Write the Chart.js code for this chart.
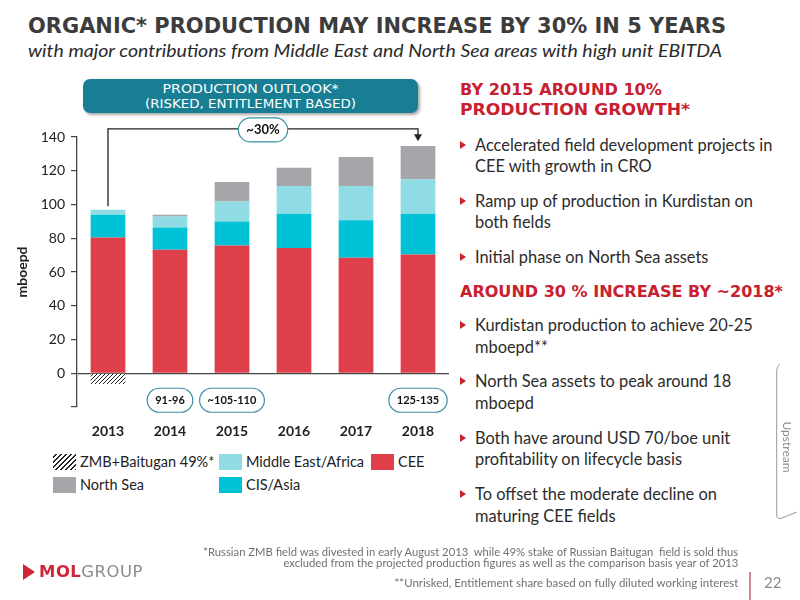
<!DOCTYPE html>
<html>
<head>
<meta charset="utf-8">
<script src="https://cdn.jsdelivr.net/npm/chart.js@4.4.1/dist/chart.umd.min.js"></script>
<style>
  body { margin: 0; width: 800px; height: 600px; background: #fff; position: relative; overflow: hidden; font-family: Lato, "Open Sans", sans-serif; }
  .abs { position: absolute; white-space: nowrap; }
  .fit { display: inline-block; transform-origin: left center; }
  .title { left: 28px; top: 14px; font: bold 22px/24px "DejaVu Sans", sans-serif; color: #3c3c3c; }
  .subtitle { left: 28px; top: 39px; font: italic 18px/22px Lato, sans-serif; color: #2a2a2a; }
  .banner { left: 83px; top: 79px; width: 335px; height: 34px; border-radius: 7px; background: #177e93; box-shadow: 2px 2px 3px rgba(0,0,0,0.35); color: #fff; text-align: center; font: 12px/15px "DejaVu Sans", sans-serif; padding-top: 3px; box-sizing: border-box; }
  .banner .fit { transform-origin: center center; }
  .head { left: 460px; font: bold 16px/20px "DejaVu Sans", sans-serif; color: #c8202e; }
  .line { left: 475px; font: 16.4px/20px Lato, sans-serif; color: #2b2b2b; }
  .tri { left: 460px; width: 0; height: 0; border-left: 6px solid #c8202e; border-top: 4px solid transparent; border-bottom: 4px solid transparent; }
  .legend { left: 53px; top: 453px; display: grid; grid-template-columns: 166px 152px auto; row-gap: 6px; font: 14.5px/17px Lato, sans-serif; color: #222; }
  .legend div { display: flex; align-items: center; }
  .legend span.box { width: 23px; height: 16px; margin-right: 4px; display: inline-block; }
  .foot { right: 62px; font: 11px/13px Lato, sans-serif; color: #707070; }
  .foot .fit { transform-origin: right center; }
</style>
</head>
<body>

<div class="abs title"><span class="fit" data-w="698">ORGANIC* PRODUCTION MAY INCREASE BY 30% IN 5 YEARS</span></div>
<div class="abs subtitle"><span class="fit" data-w="694">with major contributions from Middle East and North Sea areas with high unit EBITDA</span></div>

<div class="abs banner">
  <div><span class="fit" data-w="176">PRODUCTION OUTLOOK*</span></div>
  <div><span class="fit" data-w="211">(RISKED, ENTITLEMENT BASED)</span></div>
</div>

<canvas id="chart" width="460" height="330" style="position:absolute;left:0;top:115px;"></canvas>

<div class="abs legend" id="legend"></div>

<!-- right column -->
<div class="abs head" style="top:80px"><span class="fit" data-w="202">BY 2015 AROUND 10%</span></div>
<div class="abs head" style="top:100px"><span class="fit" data-w="230">PRODUCTION GROWTH*</span></div>

<div class="abs tri" style="top:141px"></div>
<div class="abs line" style="top:135px">Accelerated field development projects in</div>
<div class="abs line" style="top:156px">CEE with growth in CRO</div>
<div class="abs tri" style="top:197px"></div>
<div class="abs line" style="top:191px">Ramp up of production in Kurdistan on</div>
<div class="abs line" style="top:212px">both fields</div>
<div class="abs tri" style="top:253px"></div>
<div class="abs line" style="top:247px">Initial phase on North Sea assets</div>

<div class="abs head" style="top:282px"><span class="fit" data-w="323">AROUND 30 % INCREASE BY ~2018*</span></div>

<div class="abs tri" style="top:321px"></div>
<div class="abs line" style="top:315px">Kurdistan production to achieve 20-25</div>
<div class="abs line" style="top:337px">mboepd**</div>
<div class="abs tri" style="top:377px"></div>
<div class="abs line" style="top:371px">North Sea assets to peak around 18</div>
<div class="abs line" style="top:393px">mboepd</div>
<div class="abs tri" style="top:434px"></div>
<div class="abs line" style="top:428px">Both have around USD 70/boe unit</div>
<div class="abs line" style="top:449px">profitability on lifecycle basis</div>
<div class="abs tri" style="top:490px"></div>
<div class="abs line" style="top:484px">To offset the moderate decline on</div>
<div class="abs line" style="top:506px">maturing CEE fields</div>

<svg class="abs" style="left:0;top:0" width="800" height="600">
  <path d="M780 364 Q776.7 366 776.7 371 L776.7 515 Q777 520 782 518 L797 512" fill="none" stroke="#9a9a9a" stroke-width="1"/>
  <line x1="750" y1="572" x2="750" y2="600" stroke="#c0606a" stroke-width="1.5"/>
  <polygon points="23,564 35,572 23,580" fill="#d0263a"/>
</svg>
<div class="abs" style="left:787px;top:447px;transform:translate(-50%,-50%) rotate(90deg);font:12px Lato,sans-serif;color:#8c8c8c;">Upstream</div>

<div class="abs" style="left:39px;top:563px;font:16px/18px 'DejaVu Sans',sans-serif;letter-spacing:0.5px;"><span class="fit" data-w="104"><span style="color:#d0263a;font-weight:bold">MOL</span><span style="color:#8a8a8a">GROUP</span></span></div>

<div class="abs foot" style="top:545px"><span class="fit" data-w="535">*Russian ZMB field was divested in early August 2013&nbsp; while 49% stake of Russian Baitugan&nbsp; field is sold thus</span></div>
<div class="abs foot" style="top:556px"><span class="fit" data-w="455">excluded from the projected production figures as well as the comparison basis year of 2013</span></div>
<div class="abs foot" style="top:576px"><span class="fit" data-w="344">**Unrisked, Entitlement share based on fully diluted working interest</span></div>
<div class="abs" style="left:764px;top:574px;font:15px/16px Lato,sans-serif;color:#8a8a8a;">22</div>

<script>
// chart data (mboepd)
const years = ['2013', '2014', '2015', '2016', '2017', '2018'];
const cee = [80.5, 73.2, 75.7, 74.2, 68.4, 70.4];
const cisAsia = [13.4, 13.2, 14.3, 20.3, 22.2, 24.1];
const middleEastAfrica = [3.0, 6.5, 11.8, 16.4, 20.3, 20.4];
const northSea = [null, 1.0, 11.5, 10.9, 17.2, 19.8];
const zmbBaitugan = [-6.3, null, null, null, null, null];
const yTicks = [-20, 140, 20];           // min, max, step
const rangeLabels = ['', '91-96', '~105-110', '', '', '125-135'];
const growthLabel = '~30%';
const bracket = { from: 99, level: 144.8, to: 137.5 }; // y values of the 2013 -> 2018 bracket

const colors = { cee: '#df3f4a', cis: '#00c2d6', me: '#8fdce4', ns: '#a5a6aa' };

function hatchPattern() {
  const c = document.createElement('canvas');
  c.width = 4; c.height = 4;
  const g = c.getContext('2d');
  g.fillStyle = '#fff';
  g.fillRect(0, 0, 4, 4);
  g.strokeStyle = '#222';
  g.lineWidth = 1;
  g.beginPath();
  g.moveTo(0, 4); g.lineTo(4, 0);
  g.moveTo(-1, 1); g.lineTo(1, -1);
  g.moveTo(3, 5); g.lineTo(5, 3);
  g.stroke();
  return g.createPattern(c, 'repeat');
}

function pill(ctx, cx, cy, text, size) {
  ctx.font = 'bold ' + size + 'px Lato, sans-serif';
  const w = ctx.measureText(text).width + 16, h = 24, r = h / 2;
  ctx.beginPath();
  ctx.roundRect(cx - w / 2, cy - h / 2, w, h, r);
  ctx.fillStyle = '#fff';
  ctx.fill();
  ctx.strokeStyle = '#3b8fa3';
  ctx.lineWidth = 1.2;
  ctx.stroke();
  ctx.fillStyle = '#111';
  ctx.textAlign = 'center';
  ctx.textBaseline = 'middle';
  ctx.fillText(text, cx, cy);
}

const annotations = {
  id: 'annotations',
  afterDatasetsDraw(chart) {
    const { ctx, scales: { x, y } } = chart;
    const x0 = x.getPixelForValue(0);
    const x1 = x.getPixelForValue(years.length - 1);
    const yl = y.getPixelForValue(bracket.level);
    const ye = y.getPixelForValue(bracket.to);
    ctx.save();
    ctx.strokeStyle = '#222';
    ctx.lineWidth = 1.3;
    ctx.beginPath();
    ctx.moveTo(x0, y.getPixelForValue(bracket.from));
    ctx.lineTo(x0, yl);
    ctx.lineTo(x1, yl);
    ctx.lineTo(x1, ye - 5);
    ctx.stroke();
    ctx.fillStyle = '#222';
    ctx.beginPath();
    ctx.moveTo(x1 - 4, ye - 7);
    ctx.lineTo(x1 + 4, ye - 7);
    ctx.lineTo(x1, ye);
    ctx.closePath();
    ctx.fill();

    pill(ctx, x.getPixelForValue(2.5), yl + 1, growthLabel, 13);
    rangeLabels.forEach((t, i) => {
      if (t) pill(ctx, x.getPixelForValue(i), y.getPixelForValue(-16), t, 11);
    });
    ctx.restore();
  }
};

Chart.defaults.font.family = 'Lato, sans-serif';

const chart = new Chart(document.getElementById('chart'), {
  type: 'bar',
  data: {
    labels: years,
    datasets: [
      { label: 'CEE', data: cee, backgroundColor: colors.cee },
      { label: 'CIS/Asia', data: cisAsia, backgroundColor: colors.cis },
      { label: 'Middle East/Africa', data: middleEastAfrica, backgroundColor: colors.me },
      { label: 'North Sea', data: northSea, backgroundColor: colors.ns },
      { label: 'ZMB+Baitugan 49%*', data: zmbBaitugan, backgroundColor: hatchPattern() }
    ]
  },
  options: {
    responsive: false,
    animation: false,
    barPercentage: 0.56,
    categoryPercentage: 1,
    layout: { padding: { top: 22, right: 11, left: 0, bottom: 0 } },
    plugins: { legend: { display: false }, tooltip: { enabled: false } },
    scales: {
      x: {
        stacked: true,
        grid: { display: false, drawTicks: false },
        border: { display: false },
        ticks: { color: '#222', font: { size: 14, weight: 'bold' }, padding: 16 },
        afterFit: s => { s.height = 38; }
      },
      y: {
        stacked: true,
        min: yTicks[0],
        max: yTicks[1],
        ticks: {
          stepSize: yTicks[2],
          color: '#222',
          font: { size: 14 },
          padding: 6,
          callback: v => (v < 0 ? '' : v)
        },
        grid: {
          color: c => (c.tick && c.tick.value === 0 ? '#444' : 'transparent'),
          tickColor: '#444',
          tickLength: 6,
          lineWidth: 1.2
        },
        border: { display: true, color: '#444', width: 1.3 },
        title: { display: true, text: 'mboepd', color: '#222', font: { size: 14, weight: 'bold' }, padding: { top: 14 } },
        afterFit: s => { s.width = 77; }
      }
    }
  },
  plugins: [annotations]
});

// legend built from the datasets, in the slide's order
const legendOrder = ['ZMB+Baitugan 49%*', 'Middle East/Africa', 'CEE', 'North Sea', 'CIS/Asia'];
const legendEl = document.getElementById('legend');
legendOrder.forEach(name => {
  const ds = chart.data.datasets.find(d => d.label === name);
  const item = document.createElement('div');
  const box = document.createElement('span');
  box.className = 'box';
  if (typeof ds.backgroundColor === 'string') box.style.background = ds.backgroundColor;
  else box.style.background = 'repeating-linear-gradient(-45deg, #222 0 1px, #fff 1px 3.5px)';
  item.appendChild(box);
  item.appendChild(document.createTextNode(name));
  legendEl.appendChild(item);
});

// squeeze text runs to the widths they take on the slide
document.querySelectorAll('.fit').forEach(el => {
  const w = el.getBoundingClientRect().width;
  el.style.transform = 'scaleX(' + (el.dataset.w / w) + ')';
});
</script>
</body>
</html>
